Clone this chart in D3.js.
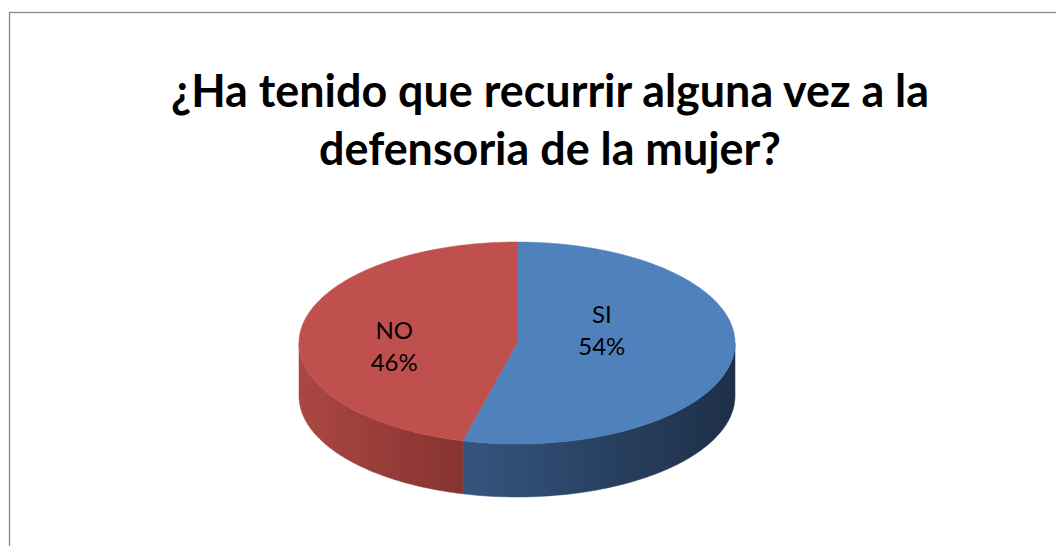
<!DOCTYPE html>
<html>
<head>
<meta charset="utf-8">
<script src="https://cdn.jsdelivr.net/npm/d3@7"></script>
<style>
  html, body { margin: 0; padding: 0; background: #fff; }
  svg { display: block; }
</style>
</head>
<body>
<script>
// chart data
var categories = ["SI", "NO"];
var values = [54, 46];
var titleLines = ["¿Ha tenido que recurrir alguna vez a la", "defensoria de la mujer?"];

var W = 1056, H = 546;

var dim = {
    cx: 517, cy: 343,      // centre of the top face
    rx: 218, ry: 101,      // ellipse radii of the top face
    depth: 53              // thickness of the pie
};

var topColors = ["#4F81BD", "#C0504D"];
// side shading, light -> dark from left to right
var sideColors = [["#34557e", "#1e2f48"], ["#ab4743", "#86332f"]];

var svg = d3.select("body").append("svg")
    .attr("width", W)
    .attr("height", H);

// chart area border (runs off the right and bottom edges)
svg.append("rect")
    .attr("x", 9.5).attr("y", 12.5)
    .attr("width", W + 20).attr("height", H + 20)
    .attr("fill", "#fff")
    .attr("stroke", "#8a8a8a")
    .attr("stroke-width", 1.3);

// title
var title = svg.append("text")
    .attr("text-anchor", "middle")
    .style("font-family", "Lato, 'Open Sans', sans-serif")
    .style("font-weight", "bold")
    .style("font-size", "40px")
    .attr("fill", "#000");

title.selectAll("tspan").data(titleLines).enter()
    .append("tspan")
    .attr("x", 550)
    .attr("y", function(d, i) { return 107 + i * 58; })
    .text(function(d) { return d; });

// fit the first line to the width it has in the original
var firstLen = title.select("tspan").node().getComputedTextLength();
title.style("font-size", (40 * 758 / firstLen).toFixed(2) + "px");

var pie = d3.pie().sort(null).value(function(d) { return d; });
var arcs = pie(values);

function pt(a, dy) {
    return [dim.cx + dim.rx * Math.sin(a), dim.cy - dim.ry * Math.cos(a) + (dy || 0)];
}

function topPath(d) {
    var p = d3.path();
    p.moveTo(dim.cx, dim.cy);
    var n = Math.max(8, Math.ceil((d.endAngle - d.startAngle) * 90));
    for (var i = 0; i <= n; i++) {
        var a = d.startAngle + (d.endAngle - d.startAngle) * i / n;
        var q = pt(a);
        p.lineTo(q[0], q[1]);
    }
    p.closePath();
    return p.toString();
}

function sidePath(d) {
    var lo = Math.max(d.startAngle, Math.PI / 2),
        hi = Math.min(d.endAngle, Math.PI * 3 / 2);
    if (lo >= hi) return null;
    var p = d3.path();
    var n = Math.max(8, Math.ceil((hi - lo) * 90));
    var i, q;
    for (i = 0; i <= n; i++) {
        q = pt(lo + (hi - lo) * i / n);
        if (i === 0) p.moveTo(q[0], q[1]); else p.lineTo(q[0], q[1]);
    }
    for (i = n; i >= 0; i--) {
        q = pt(lo + (hi - lo) * i / n, dim.depth);
        p.lineTo(q[0], q[1]);
    }
    p.closePath();
    return p.toString();
}

// gradients for the side walls, spread across each wall's horizontal extent
var defs = svg.append("defs");
arcs.forEach(function(d, i) {
    var lo = Math.max(d.startAngle, Math.PI / 2),
        hi = Math.min(d.endAngle, Math.PI * 3 / 2);
    var xs = d3.range(0, 41).map(function(k) { return pt(lo + (hi - lo) * k / 40)[0]; });
    var g = defs.append("linearGradient")
        .attr("id", "side-" + i)
        .attr("gradientUnits", "userSpaceOnUse")
        .attr("x1", d3.min(xs)).attr("x2", d3.max(xs))
        .attr("y1", 0).attr("y2", 0);
    g.append("stop").attr("offset", 0).attr("stop-color", sideColors[i][0]);
    g.append("stop").attr("offset", 1).attr("stop-color", sideColors[i][1]);
});

var pieG = svg.append("g");

pieG.selectAll("path.side").data(arcs).enter()
    .append("path")
    .attr("class", "side")
    .attr("d", sidePath)
    .attr("fill", function(d, i) { return "url(#side-" + i + ")"; })
    .attr("stroke", function(d, i) { return "url(#side-" + i + ")"; })
    .attr("stroke-width", 0.5);

pieG.selectAll("path.top").data(arcs).enter()
    .append("path")
    .attr("class", "top")
    .attr("d", topPath)
    .attr("fill", function(d, i) { return topColors[i]; })
    .attr("stroke", function(d, i) { return topColors[i]; })
    .attr("stroke-width", 0.5);

// data labels
var total = d3.sum(values);
var labels = pieG.selectAll("text.lbl").data(arcs).enter()
    .append("text")
    .attr("class", "lbl")
    .attr("text-anchor", "middle")
    .style("font-family", "Lato, 'Open Sans', sans-serif")
    .style("font-size", "24px")
    .attr("fill", "#000")
    .attr("transform", function(d) {
        var a = (d.startAngle + d.endAngle) / 2;
        var x = dim.cx - 19 + 0.48 * dim.rx * Math.sin(a);
        var y = dim.cy - 4 - 8.5 * Math.sin(a);
        return "translate(" + x + "," + y + ")";
    });

labels.append("tspan")
    .attr("x", 0).attr("y", -8)
    .text(function(d, i) { return categories[i]; });
labels.append("tspan")
    .attr("x", 0).attr("y", 24)
    .text(function(d) { return Math.round(d.value / total * 100) + "%"; });
</script>
</body>
</html>
